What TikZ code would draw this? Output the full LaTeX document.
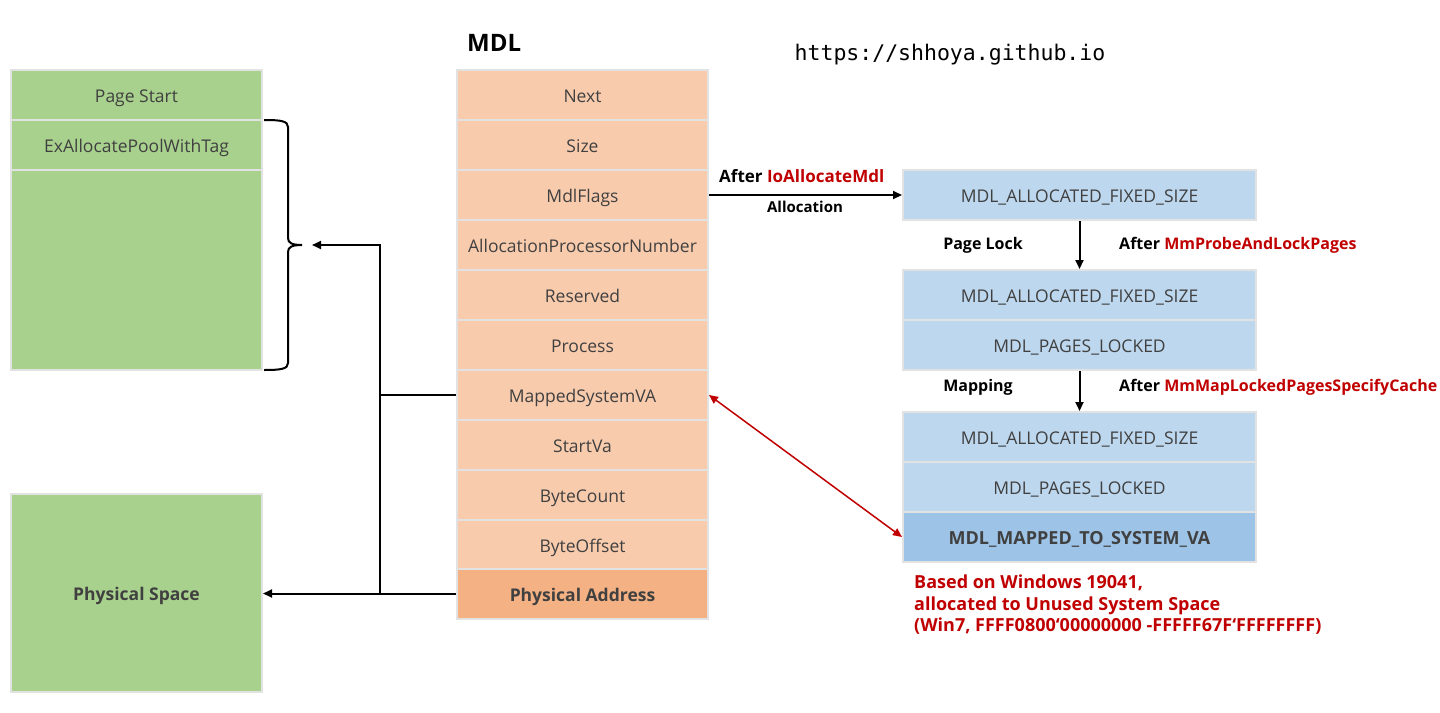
\documentclass[tikz,border=0pt]{standalone}
\usepackage{fontspec}
\setmainfont{Open Sans}
\newfontfamily\urlfont{DejaVu Sans Mono}
\usetikzlibrary{arrows.meta}
\definecolor{gfill}{HTML}{A9D18E}
\definecolor{ofill}{HTML}{F8CBAD}
\definecolor{odark}{HTML}{F4B183}
\definecolor{bfill}{HTML}{BDD7EE}
\definecolor{bdark}{HTML}{9DC3E6}
\definecolor{bord}{HTML}{E2E2E2}
\definecolor{txt}{HTML}{404040}
\definecolor{redt}{HTML}{C00000}
\begin{document}
\begin{tikzpicture}[x=1pt,y=-1pt,
  cell/.style={draw=bord, line width=2pt, minimum width=251pt, minimum height=50pt, inner sep=0pt, text=txt, text height=16pt, text depth=1pt, font=\fontsize{17.5}{20}\selectfont},
  gcell/.style={cell, fill=gfill},
  ocell/.style={cell, fill=ofill},
  bcell/.style={cell, fill=bfill, minimum width=353pt},
  lbl/.style={font=\fontsize{16}{19}\selectfont\bfseries, text=black, inner sep=0pt},
  conn/.style={line width=2pt, black},
  tip/.style={-{Triangle[length=9pt,width=8pt]}},
  redarrow/.style={line width=1.5pt, redt, {Triangle[length=9pt,width=8pt]}-{Triangle[length=9pt,width=8pt]}}
]
\useasboundingbox (0,0) rectangle (1440,712);

% title and url
\node[font=\fontsize{24}{28}\selectfont\bfseries, anchor=west, inner sep=0pt] (title) at (467,43) {MDL};
\node[font=\fontsize{21.5}{24}\selectfont\urlfont, inner sep=0pt] (url) at (950,55) {https://shhoya.github.io};

% left green boxes
\node[gcell] (pstart) at (136.5,95) {Page Start};
\node[gcell] (exalloc) at (136.5,145) {ExAllocatePoolWithTag};
\node[gcell, minimum height=200pt] (pool) at (136.5,270) {};
\node[gcell, minimum height=198pt, font=\fontsize{17.5}{20}\selectfont\bfseries] (pspace) at (136.5,593) {Physical Space};

% MDL column
\node[ocell] (next) at (582.5,95) {Next};
\node[ocell] (size) at (582.5,145) {Size};
\node[ocell] (flags) at (582.5,195) {MdlFlags};
\node[ocell] (apn) at (582.5,245) {AllocationProcessorNumber};
\node[ocell] (resv) at (582.5,295) {Reserved};
\node[ocell] (proc) at (582.5,345) {Process};
\node[ocell] (msva) at (582.5,395) {MappedSystemVA};
\node[ocell] (startva) at (582.5,445) {StartVa};
\node[ocell] (bcount) at (582.5,495) {ByteCount};
\node[ocell] (boff) at (582.5,544.5) {ByteOffset};
\node[cell, fill=odark, font=\fontsize{17.5}{20}\selectfont\bfseries] (paddr) at (582.5,593.5) {Physical Address};

% right flag boxes
\node[bcell] (f1) at (1079.5,195) {MDL\_ALLOCATED\_FIXED\_SIZE};
\node[bcell] (f2a) at (1079.5,295) {MDL\_ALLOCATED\_FIXED\_SIZE};
\node[bcell] (f2b) at (1079.5,345) {MDL\_PAGES\_LOCKED};
\node[bcell] (f3a) at (1079.5,437) {MDL\_ALLOCATED\_FIXED\_SIZE};
\node[bcell] (f3b) at (1079.5,487) {MDL\_PAGES\_LOCKED};
\node[bcell, fill=bdark, font=\fontsize{18}{20}\selectfont\bfseries] (f3c) at (1079.5,537) {MDL\_MAPPED\_TO\_SYSTEM\_VA};

% flow arrows and labels
\draw[conn, tip] (flags.east) -- (f1.west);
\node[lbl, anchor=west, font=\fontsize{17}{19}\selectfont\bfseries] (l1) at (719,176) {After \textcolor{redt}{IoAllocateMdl}};
\node[lbl, font=\fontsize{15}{18}\selectfont\bfseries] (l1b) at (805,207) {Allocation};
\draw[conn, tip] (f1.south) -- (f2a.north);
\node[lbl] (l2) at (983,245) {Page Lock};
\node[lbl, anchor=west] (l2b) at (1119,245) {After \textcolor{redt}{MmProbeAndLockPages}};
\draw[conn, tip] (f2b.south) -- (f3a.north);
\node[lbl] (l3) at (978,387) {Mapping};
\node[lbl, anchor=west] (l3b) at (1119,387) {After \textcolor{redt}{MmMapLockedPagesSpecifyCache}};

% red double arrow
\draw[redarrow] (msva.east) -- (f3c.west);

% red note
\node[font=\fontsize{18}{21.5}\selectfont\bfseries, text=redt, anchor=north west, align=left, inner sep=0pt] (note) at (914,575)
  {Based on Windows 19041,\\allocated to Unused System Space\\(Win7, FFFF0800\symbol{96}00000000 -FFFFF67F\symbol{96}FFFFFFFF)};

% brace
\coordinate (btip) at (312,245);
\coordinate (jt) at (380,245);
\draw[line width=2pt] (264,120) .. controls (281,120) and (288,121) .. (288,127) -- (288,238)
   .. controls (288,243) and (292,245) .. (302,245)
   .. controls (292,245) and (288,247) .. (288,252) -- (288,363)
   .. controls (288,369) and (281,370) .. (264,370);

% black connectors
\draw[conn, tip] (msva.west) -- (msva.west -| jt) -- (jt) -- (btip);
\draw[conn] (msva.west -| jt) -- (paddr.west -| jt);
\draw[conn, tip] (paddr.west) -- (paddr.west -| pspace.east);
\end{tikzpicture}
\end{document}
